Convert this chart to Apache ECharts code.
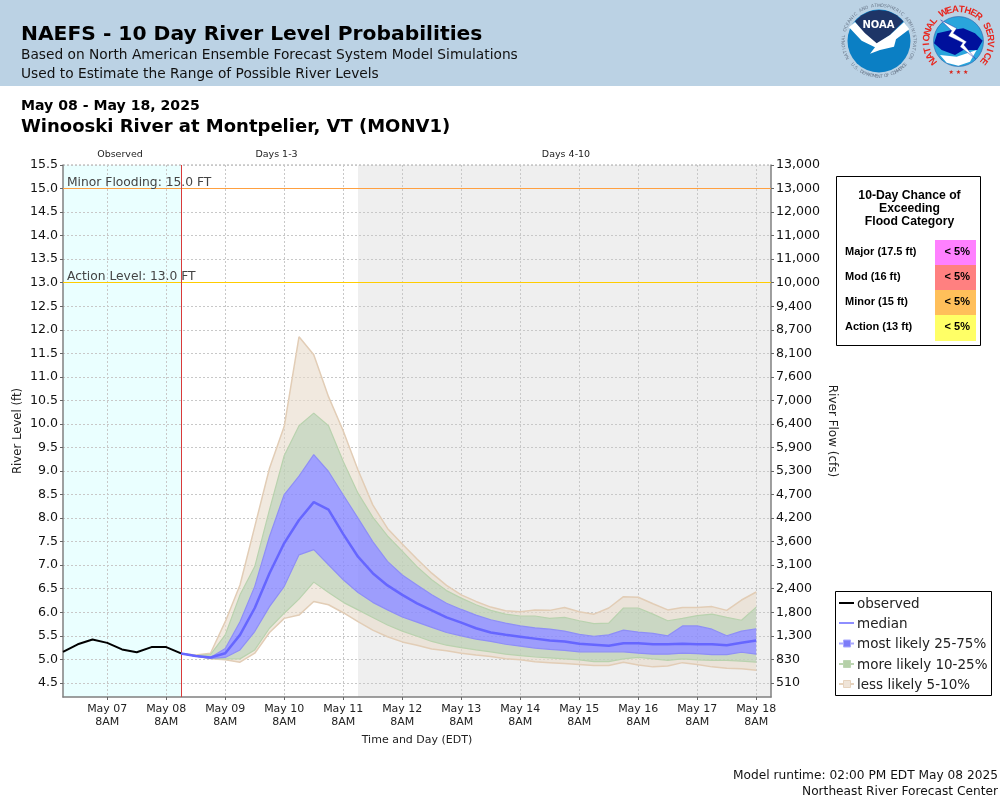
<!DOCTYPE html>
<html>
<head>
<meta charset="utf-8">
<title>NAEFS - 10 Day River Level Probabilities</title>
<script src="https://cdn.jsdelivr.net/npm/echarts@6/dist/echarts.min.js"></script>
<style>
  html, body { margin: 0; padding: 0; background: #fff; }
  #chart { width: 1000px; height: 800px; }
</style>
</head>
<body>
<div id="chart"></div>
<script>
// hours since May 06 14:00 EDT
const obsHours = [0, 6, 12, 18, 24, 30, 36, 42, 48];
const obsLevels = [5.16, 5.32, 5.42, 5.35, 5.21, 5.15, 5.26, 5.26, 5.125];

const fcstHours = [48, 54, 60, 66, 72, 78, 84, 90, 96, 102, 108, 114, 120, 126, 132, 138, 144, 150, 156, 162,
  168, 174, 180, 186, 192, 198, 204, 210, 216, 222, 228, 234, 240, 246, 252, 258, 264, 270, 276, 282];

const median = [5.125, 5.07, 5.04, 5.13, 5.52, 6.09, 6.83, 7.47, 7.96, 8.34, 8.18, 7.66, 7.18, 6.83, 6.57, 6.37,
  6.19, 6.04, 5.89, 5.78, 5.66, 5.57, 5.52, 5.48, 5.44, 5.4, 5.38, 5.33, 5.31, 5.29, 5.34, 5.34, 5.32, 5.32, 5.33, 5.32, 5.32, 5.3, 5.35, 5.4];
const p75 = [5.125, 5.07, 5.04, 5.23, 5.8, 6.55, 7.61, 8.5, 8.89, 9.35, 8.99, 8.49, 8.0, 7.5, 7.08, 6.79,
  6.58, 6.37, 6.19, 6.06, 5.94, 5.84, 5.77, 5.71, 5.67, 5.64, 5.6, 5.53, 5.49, 5.52, 5.62, 5.58, 5.55, 5.5, 5.71, 5.71, 5.64, 5.5, 5.6, 5.65];
const p25 = [5.125, 5.07, 5.02, 5.04, 5.2, 5.59, 6.12, 6.55, 7.22, 7.33, 7.01, 6.69, 6.42, 6.21, 6.05, 5.9,
  5.79, 5.68, 5.57, 5.5, 5.43, 5.38, 5.32, 5.28, 5.24, 5.21, 5.19, 5.16, 5.16, 5.16, 5.16, 5.13, 5.11, 5.11, 5.13, 5.12, 5.1, 5.1, 5.15, 5.11];
const p90 = [5.125, 5.08, 5.1, 5.52, 6.37, 6.97, 8.18, 9.33, 9.96, 10.23, 9.96, 9.2, 8.53, 8.02, 7.62, 7.3,
  6.97, 6.69, 6.46, 6.3, 6.16, 6.04, 5.96, 5.92, 5.92, 5.87, 5.89, 5.82, 5.76, 5.77, 6.09, 6.09, 5.96, 5.82, 5.87, 5.93, 5.96, 5.89, 5.83, 6.11];
const p10 = [5.125, 5.07, 5.02, 5.01, 5.01, 5.2, 5.66, 5.98, 6.28, 6.64, 6.42, 6.21, 6.05, 5.89, 5.73, 5.6,
  5.49, 5.38, 5.3, 5.25, 5.2, 5.16, 5.11, 5.08, 5.05, 5.03, 5.01, 4.99, 4.95, 4.95, 5.01, 5.04, 5.01, 4.98, 5.01, 4.99, 4.98, 4.98, 4.96, 4.94];
const p95 = [5.125, 5.09, 5.13, 5.8, 6.58, 7.82, 9.06, 9.95, 11.85, 11.47, 10.58, 9.85, 9.02, 8.28, 7.78, 7.45,
  7.13, 6.83, 6.57, 6.37, 6.23, 6.11, 6.03, 6.01, 6.05, 6.04, 6.1, 6.01, 5.96, 6.09, 6.33, 6.32, 6.18, 6.05, 6.1, 6.1, 6.12, 6.04, 6.26, 6.43];
const p5 = [5.125, 5.07, 5.01, 4.99, 4.94, 5.13, 5.57, 5.87, 5.94, 6.23, 6.16, 5.99, 5.8, 5.62, 5.48, 5.37,
  5.3, 5.22, 5.18, 5.13, 5.09, 5.06, 5.01, 4.99, 4.95, 4.93, 4.91, 4.89, 4.87, 4.87, 4.94, 4.88, 4.84, 4.86, 4.93, 4.89, 4.84, 4.81, 4.8, 4.77];

const levelTicks = [4.5, 5, 5.5, 6, 6.5, 7, 7.5, 8, 8.5, 9, 9.5, 10, 10.5, 11, 11.5, 12, 12.5, 13, 13.5, 14, 14.5, 15, 15.5];
const flowTicks = ['510', '830', '1,300', '1,800', '2,400', '3,100', '3,600', '4,200', '4,700', '5,300', '5,900', '6,400',
  '7,000', '7,600', '8,100', '8,700', '9,400', '10,000', '11,000', '11,000', '12,000', '13,000', '13,000'];
const dayTickHours = [18, 42, 66, 90, 114, 138, 162, 186, 210, 234, 258, 282];
const dayTickLabels = ['May 07', 'May 08', 'May 09', 'May 10', 'May 11', 'May 12', 'May 13', 'May 14', 'May 15', 'May 16', 'May 17', 'May 18'];

const floodCategories = ['Major (17.5 ft)', 'Mod (16 ft)', 'Minor (15 ft)', 'Action (13 ft)'];
const floodChances = ['< 5%', '< 5%', '< 5%', '< 5%'];
const floodColors = ['#FF80FF', '#FF8080', '#FFBF5A', '#FFFF66'];
const legendNames = ['observed', 'median', 'most likely 25-75%', 'more likely 10-25%', 'less likely 5-10%'];

const SANS = '"DejaVu Sans"';
const ARIAL = '"Liberation Sans"';
const TAN = 'rgba(232,218,202,0.6)', GREEN = 'rgba(192,209,184,0.8)', BLUE = 'rgba(136,136,255,0.8)';
const TAN_EDGE = '#E2CDB6', GREEN_EDGE = '#B9D2AE', BLUE_EDGE = '#8E8EF6';
const GRID_LINE = { color: '#C8C8C8', type: [2, 2], width: 1 };

function zone(name, from, to, color) {
  return {
    type: 'custom', name, silent: true, z: 0, clip: true, data: [[from, to]],
    renderItem(params, api) {
      const a = api.coord([from, 15.5]), b = api.coord([to, 4.2]);
      return { type: 'rect', shape: { x: a[0], y: a[1], width: b[0] - a[0], height: b[1] - a[1] }, style: { fill: color } };
    }
  };
}

function band(name, lo, hi, color) {
  return {
    type: 'custom', name, silent: true, z: 3, clip: true,
    data: fcstHours.map((h, i) => [h, lo[i], hi[i]]),
    renderItem(params, api) {
      if (params.dataIndex !== 0) return null;
      const points = [];
      fcstHours.forEach((h, i) => points.push(api.coord([h, lo[i]])));
      for (let i = fcstHours.length - 1; i >= 0; i--) points.push(api.coord([fcstHours[i], hi[i]]));
      return { type: 'polygon', shape: { points }, style: { fill: color } };
    }
  };
}

function edge(name, values, color, width, z) {
  return {
    type: 'line', name, silent: true, z: z || 4, symbol: 'none', animation: false,
    data: fcstHours.map((h, i) => [h, values[i]]),
    lineStyle: { color, width }
  };
}

function txt(x, y, text, font, extra) {
  return { type: 'text', x, y, silent: true, style: Object.assign({ text, font, fill: '#000', verticalAlign: 'middle' }, extra || {}) };
}

// letters on a circle, angle in degrees clockwise from 12 o'clock
function ringText(cx, cy, r, text, from, to, font, fill, under) {
  const step = (to - from) / (text.length - 1);
  return text.split('').map((ch, i) => {
    const a = (from + i * step) * Math.PI / 180;
    return {
      type: 'text', x: cx + r * Math.sin(a), y: cy - r * Math.cos(a), silent: true,
      rotation: under ? Math.PI - a : -a,
      style: { text: ch, font, fill, align: 'center', verticalAlign: 'middle' }
    };
  });
}

const zoomPt = (p) => [820 + p[0] / 3, p[1] / 3];
const poly = (pts, fill, extra) => ({
  type: 'polygon', silent: true, shape: { points: pts.map(zoomPt) },
  style: Object.assign({ fill }, extra || {})
});

function noaaLogo() {
  const cx = 879, cy = 41;
  const capTop = [[105, 64], [125, 46], [150, 34], [177, 30], [205, 34], [230, 46], [250, 64], [210, 105], [170, 132], [130, 100]];
  return [
    { type: 'circle', silent: true, shape: { cx, cy, r: 31.5 }, style: { fill: '#0B7FC4' } },
    poly(capTop, '#1E3567'),
    poly([[87, 82], [105, 66], [135, 100], [170, 130], [210, 105], [252, 66], [268, 88], [228, 118], [222, 140], [180, 150], [150, 161], [165, 142], [125, 122]], '#fff'),
    txt(cx - 0.5, 25.5, 'NOAA', 'bold 10px ' + SANS, { fill: '#fff', align: 'center' })
  ].concat(
    ringText(cx, cy, 35.5, 'NATIONAL OCEANIC AND ATMOSPHERIC ADMINISTRATION', -118, 118, '4.5px ' + SANS, '#6C7A8C'),
    ringText(cx, cy, 35.5, 'U.S. DEPARTMENT OF COMMERCE', -132, -228, '4.5px ' + SANS, '#6C7A8C', true)
  );
}

function nwsLogo() {
  const cx = 958.5, cy = 41.5;
  return [
    { type: 'circle', silent: true, shape: { cx, cy, r: 25 }, style: { fill: '#2AA5DC', stroke: '#1B4FA0', lineWidth: 0.5 } },
    poly([[360, 165], [410, 170], [470, 150], [450, 185], [415, 197], [380, 188]], '#fff'),
    poly([[342, 130], [352, 100], [395, 90], [430, 85], [465, 100], [488, 122], [472, 150], [430, 150], [405, 165], [365, 150]], '#00109C'),
    poly([[362, 60], [410, 85], [400, 100], [440, 125], [432, 135], [466, 176], [420, 140], [428, 128], [385, 108], [395, 92]], '#fff', { stroke: '#00109C', lineWidth: 0.4 }),
    txt(958.5, 72, '★ ★ ★', '6px ' + SANS, { fill: '#D9261C', align: 'center' })
  ].concat(
    ringText(cx, cy, 32, 'NATIONAL WEATHER SERVICE', -128, 128, 'bold 9.5px ' + ARIAL, '#E8261E')
  );
}

function floodPanel() {
  const items = [
    { type: 'rect', silent: true, shape: { x: 836.5, y: 176.5, width: 144, height: 169 }, style: { fill: '#fff', stroke: '#000', lineWidth: 1 } },
    txt(909.5, 195.5, '10-Day Chance of', 'bold 12.2px ' + ARIAL, { align: 'center' }),
    txt(909.5, 208.5, 'Exceeding', 'bold 12.2px ' + ARIAL, { align: 'center' }),
    txt(909.5, 221.5, 'Flood Category', 'bold 12.2px ' + ARIAL, { align: 'center' })
  ];
  floodCategories.forEach((name, i) => {
    const top = 240 + i * 25;
    items.push({ type: 'rect', silent: true, shape: { x: 935, y: top, width: 41, height: i === 3 ? 26 : 25 }, style: { fill: floodColors[i] } });
    items.push(txt(845, top + 12, name, 'bold 11px ' + ARIAL));
    items.push(txt(970, top + 12, floodChances[i], 'bold 11px ' + ARIAL, { align: 'right' }));
  });
  return items;
}

function legendBox() {
  const ys = [603, 623, 643.5, 664, 684];
  const lineColors = ['#000', '#8E8EFF', '#A8A8FF', '#BCD5B2', '#E6D3BE'];
  const boxColors = [null, null, '#7C7CF8', '#B5D0A8', '#EFE4D8'];
  const items = [{ type: 'rect', silent: true, shape: { x: 835.5, y: 591.5, width: 156, height: 104 }, style: { fill: '#fff', stroke: '#000', lineWidth: 1 } }];
  legendNames.forEach((name, i) => {
    items.push({ type: 'line', silent: true, shape: { x1: 839, y1: ys[i], x2: 854, y2: ys[i] }, style: { stroke: lineColors[i], lineWidth: 2 } });
    if (boxColors[i]) {
      items.push({ type: 'rect', silent: true, shape: { x: 843.5, y: ys[i] - 3.5, width: 7, height: 7 }, style: { fill: boxColors[i], stroke: lineColors[i], lineWidth: 1 } });
    }
    items.push(txt(857, ys[i] + 1, name, '13.5px ' + SANS, { fill: '#222' }));
  });
  return items;
}

const chart = echarts.init(document.getElementById('chart'), null, { renderer: 'canvas' });

chart.setOption({
  animation: false,
  backgroundColor: '#fff',
  grid: { left: 63, top: 165, width: 708, height: 532, containLabel: false, show: false },
  xAxis: {
    type: 'value', min: 0, max: 288, z: 1,
    axisLine: { show: true, lineStyle: { color: '#808080', width: 1.5 } },
    axisTick: { show: true, length: 3, customValues: dayTickHours, lineStyle: { color: '#666' } },
    axisLabel: {
      customValues: dayTickHours, margin: 6, color: '#222', fontFamily: SANS, fontSize: 11, lineHeight: 13,
      formatter: (v) => dayTickLabels[dayTickHours.indexOf(v)] + '\n8AM'
    },
    splitLine: { show: true, lineStyle: GRID_LINE }
  },
  yAxis: [
    {
      type: 'value', min: 4.2, max: 15.5, position: 'left', z: 1,
      axisLine: { show: true, lineStyle: { color: '#808080', width: 1.5 } },
      axisTick: { show: true, length: 3, customValues: levelTicks, lineStyle: { color: '#666' } },
      axisLabel: { customValues: levelTicks, margin: 5, color: '#111', fontFamily: SANS, fontSize: 12.6, padding: [5, 0, 0, 0], formatter: (v) => v.toFixed(1) },
      splitLine: { show: true, lineStyle: GRID_LINE }
    },
    {
      type: 'value', min: 4.2, max: 15.5, position: 'right', z: 1,
      axisLine: { show: true, onZero: false, lineStyle: { color: '#808080', width: 1.5 } },
      axisTick: { show: true, length: 3, customValues: levelTicks, lineStyle: { color: '#666' } },
      axisLabel: { customValues: levelTicks, margin: 5, color: '#111', fontFamily: SANS, fontSize: 12.6, padding: [5, 0, 0, 0], formatter: (v) => flowTicks[levelTicks.indexOf(v)] },
      splitLine: { show: false }
    }
  ],
  graphic: { elements: [
    { type: 'rect', silent: true, z: -1, shape: { x: 0, y: 0, width: 1000, height: 86 }, style: { fill: '#BBD2E4' } },
    txt(21, 34.5, 'NAEFS - 10 Day River Level Probabilities', 'bold 20.25px ' + SANS),
    txt(21, 55, 'Based on North American Ensemble Forecast System Model Simulations', '13.75px ' + SANS, { fill: '#111' }),
    txt(21, 74, 'Used to Estimate the Range of Possible River Levels', '13.75px ' + SANS, { fill: '#111' }),
    txt(21, 106, 'May 08 - May 18, 2025', 'bold 14.1px ' + SANS),
    txt(21, 127, 'Winooski River at Montpelier, VT (MONV1)', 'bold 18px ' + SANS),
    txt(120, 155, 'Observed', '9.5px ' + SANS, { align: 'center', fill: '#222' }),
    txt(276.5, 155, 'Days 1-3', '9.5px ' + SANS, { align: 'center', fill: '#222' }),
    txt(566, 155, 'Days 4-10', '9.5px ' + SANS, { align: 'center', fill: '#222' }),
    Object.assign(txt(18, 431, 'River Level (ft)', '11.7px ' + SANS, { align: 'center', fill: '#222' }), { rotation: Math.PI / 2 }),
    Object.assign(txt(832, 431, 'River Flow (cfs)', '12px ' + SANS, { align: 'center', fill: '#222' }), { rotation: -Math.PI / 2 }),
    txt(417, 740.5, 'Time and Day (EDT)', '11px ' + SANS, { align: 'center', fill: '#222' }),
    txt(998, 776, 'Model runtime: 02:00 PM EDT May 08 2025', '12.2px ' + SANS, { align: 'right', fill: '#111' }),
    txt(998, 792, 'Northeast River Forecast Center', '12.2px ' + SANS, { align: 'right', fill: '#111' }),
    { type: 'line', silent: true, shape: { x1: 63, y1: 165, x2: 771, y2: 165 }, style: { stroke: '#AAAAAA', lineWidth: 1, lineDash: [2, 2] } }
  ].concat(noaaLogo(), nwsLogo(), floodPanel(), legendBox()) },
  series: [
    zone('observed period', 0, 48, '#EAFFFF'),
    zone('days 4-10', 120, 288, '#EFEFEF'),
    {
      type: 'line', name: 'flood levels', silent: true, z: 2, symbol: 'none', data: [],
      markLine: {
        silent: true, symbol: 'none', animation: false,
        data: [
          { yAxis: 15, lineStyle: { color: '#FFA040', width: 1, type: 'solid' },
            label: { formatter: 'Minor Flooding: 15.0 FT', position: 'insideStartTop', distance: [4, 0], color: '#444', fontFamily: SANS, fontSize: 12.3, padding: [0, 0, 0, 0], lineHeight: 12 } },
          { yAxis: 13, lineStyle: { color: '#FFCC00', width: 1, type: 'solid' },
            label: { formatter: 'Action Level: 13.0 FT', position: 'insideStartTop', distance: [4, 0], color: '#444', fontFamily: SANS, fontSize: 12.3, padding: [0, 0, 0, 0], lineHeight: 12 } }
        ]
      }
    },
    {
      type: 'line', name: 'forecast start', silent: true, z: 6, symbol: 'none', data: [],
      markLine: { silent: true, symbol: 'none', animation: false, label: { show: false }, data: [{ xAxis: 48 }], lineStyle: { color: '#D93A3A', width: 1, type: 'solid' } }
    },
    band('less likely upper', p90, p95, TAN),
    band('less likely lower', p5, p10, TAN),
    band('more likely upper', p75, p90, GREEN),
    band('more likely lower', p10, p25, GREEN),
    band('most likely', p25, p75, BLUE),
    edge('5%', p5, TAN_EDGE, 1.5),
    edge('95%', p95, TAN_EDGE, 1.5),
    edge('10%', p10, GREEN_EDGE, 1.2),
    edge('90%', p90, GREEN_EDGE, 1.2),
    edge('25%', p25, BLUE_EDGE, 1.2),
    edge('75%', p75, BLUE_EDGE, 1.2),
    {
      type: 'line', name: 'observed', silent: true, z: 7, symbol: 'none',
      data: obsHours.map((h, i) => [h, obsLevels[i]]), lineStyle: { color: '#000', width: 2 }
    },
    edge('median', median, '#6666FF', 2.5, 8)
  ]
});
</script>
</body>
</html>
